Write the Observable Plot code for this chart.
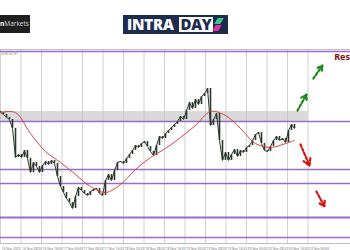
<!DOCTYPE html>
<html><head><meta charset="utf-8">
<script src="https://cdn.jsdelivr.net/npm/d3@7"></script>
<script src="https://cdn.jsdelivr.net/npm/@observablehq/plot@0.6"></script>
<style>
body{margin:0;background:#fff;font-family:"Open Sans",Roboto,sans-serif;}
#wrap{position:relative;width:350px;height:250px;overflow:hidden;}
#chart{position:absolute;left:0;top:0;}
.lg1{position:absolute;left:0;top:15px;width:30px;height:18px;background:#1f1f1f;color:#ddd;font-size:6.5px;line-height:18px;white-space:nowrap;overflow:hidden;}
.lg1 b{color:#fff}
.lg2{position:absolute;left:123px;top:15px;width:105px;height:19px;background:#1d2b4f;}
.lg2 .t1{position:absolute;left:4px;top:0;color:#fff;font:800 15px/19px "Open Sans",sans-serif;letter-spacing:-0.2px;}
.lg2 .t2{position:absolute;left:56px;top:2px;width:34px;height:15px;background:#fff;color:#1d2b4f;font:800 15px/15px "Open Sans",sans-serif;letter-spacing:-0.3px;text-align:center;}
.lg2 .i1{position:absolute;left:93px;top:3px;width:6px;height:6px;background:#35c98a;transform:skewX(-30deg);}
.lg2 .i2{position:absolute;left:91px;top:10px;width:6px;height:6px;background:#e3309a;transform:skewX(-30deg);}
</style></head>
<body>
<div id="wrap">
<div id="chart"></div>
<div class="lg1"><b>n</b>Markets</div>
<div class="lg2"><span class="t1">INTRA</span><span class="t2">DAY</span><span class="i1"></span><span class="i2"></span></div>
</div>
<script>
// Closing prices, one per bar
const closes = [
1.1876,1.1872,1.1866,1.1862,1.1844,1.1786,1.1792,1.1786,1.1800,1.1784,
1.1756,1.1776,1.1768,1.1756,1.1770,1.1778,1.1772,1.1780,1.1774,1.1748,
1.1728,1.1716,1.1704,1.1696,1.1684,1.1708,1.1726,1.1720,1.1714,1.1710,
1.1718,1.1722,1.1724,1.1714,1.1710,1.1740,1.1752,1.1740,1.1760,1.1776,
1.1778,1.1774,1.1784,1.1792,1.1800,1.1810,1.1806,1.1814,1.1818,1.1808,
1.1798,1.1790,1.1810,1.1828,1.1824,1.1834,1.1840,1.1846,1.1852,1.1858,
1.1868,1.1862,1.1880,1.1896,1.1884,1.1902,1.1892,1.1908,1.1914,1.1924,
1.1850,1.1862,1.1874,1.1820,1.1780,1.1796,1.1780,1.1792,1.1802,1.1788,
1.1800,1.1796,1.1806,1.1810,1.1820,1.1832,1.1836,1.1814,1.1800,1.1798,
1.1808,1.1820,1.1828,1.1820,1.1824,1.1816,1.1840,1.1852,1.1844
];
const firstOpen = 1.1878;
// Moving average (bar index, value)
const maIdx = [0,5,10,15,20,25,30,35,40,45,50,55,60,65,70,75,80,85,90,95,98];
const maVal = [1.1876,1.1876,1.1834,1.1798,1.1776,1.1752,1.1728,1.1716,1.1732,1.1762,
1.1786,1.1804,1.1826,1.1850,1.1878,1.1870,1.1844,1.1814,1.1806,1.1814,1.1820];
// Horizontal levels
const levels = [1.1998,1.1858,1.1762,1.1734,1.1666,1.1626];
const levelWidths = [1.3,1.3,1.3,1.3,2,1.3];
// Resistance zone
const zoneTop = 1.1878, zoneBottom = 1.1858, zoneEnd = 102.5;
// Time labels (one per grid line)
const timeLabels = ["16 Nov 2020","16 Nov 08:00","16 Nov 16:00","17 Nov 00:00","17 Nov 08:00","17 Nov 16:00",
"18 Nov 00:00","18 Nov 08:00","18 Nov 16:00","19 Nov 00:00","19 Nov 08:00","19 Nov 16:00",
"20 Nov 00:00","20 Nov 08:00","20 Nov 16:00","23 Nov 00:00"];
const barsPerGrid = 41/6;
// Scenario arrows
const upArrows = [{x1:99,y1:1.1880,x2:102,y2:1.1912},{x1:104.3,y1:1.1944,x2:107.3,y2:1.1970}];
const downArrows = [{x1:100,y1:1.1812,x2:103,y2:1.1770},{x1:105.3,y1:1.1718,x2:108,y2:1.1688}];
const labelText = "Res";

const bars = closes.map((c,i)=>({i, open: i ? closes[i-1] : firstOpen, close:c}));
const ma = maIdx.map((x,k)=>({x, y: maVal[k]}));
const grid = timeLabels.map((t,k)=>({x:k*barsPerGrid, t}));

const chart = Plot.plot({
  width:350, height:250, margin:0,
  x:{domain:[0,350/3], range:[0,350], axis:null},
  y:{domain:[1.16,1.21], range:[250,0], axis:null},
  marks:[
    Plot.rect([{x1:0,x2:zoneEnd,y1:zoneBottom,y2:zoneTop}],{x1:"x1",x2:"x2",y1:"y1",y2:"y2",fill:"#d9d9d9"}),
    Plot.ruleX(grid,{x:"x",y1:1.1614,y2:1.2002,stroke:"#c4c4c4",strokeWidth:0.8}),
    Plot.ruleY([1.2002],{stroke:"#b0b0b0",strokeWidth:0.8}),
    Plot.ruleY([1.1614],{stroke:"#b0b0b0",strokeWidth:0.8}),
    Plot.ruleY(levels,{y:d=>d,stroke:"#9a6cc8",strokeWidth:(d,k)=>levelWidths[k]}),
    Plot.text(grid,{x:"x",text:"t",frameAnchor:"bottom",dy:-1,dx:1,textAnchor:"start",fontSize:3.3,fill:"#777"}),
    Plot.text(["EURUSD,H1"],{x:0,y:1.1998,dy:3,dx:1,textAnchor:"start",fontSize:3,fill:"#888"}),
    Plot.ruleX(bars,{x:"i",y1:"open",y2:"close",stroke:"#2c3a2c",strokeWidth:1.6}),
    Plot.line(bars,{x:"i",y:"close",stroke:"#2c3a2c",strokeWidth:1}),
    Plot.line(ma,{x:"x",y:"y",stroke:"#d9443a",strokeWidth:1,curve:"catmull-rom"}),
    Plot.arrow(upArrows,{x1:"x1",y1:"y1",x2:"x2",y2:"y2",stroke:"#1e8a1e",strokeWidth:2.2,strokeDasharray:"2.5,2",headLength:5}),
    Plot.arrow(downArrows,{x1:"x1",y1:"y1",x2:"x2",y2:"y2",stroke:"#d11414",strokeWidth:2.2,strokeDasharray:"2.5,2",headLength:5}),
    Plot.text([labelText],{x:350/3,y:1.1986,text:d=>d,textAnchor:"end",dx:-0.5,fontSize:9,fontWeight:"bold",fill:"#8b0a0a"})
  ]
});
document.getElementById("chart").appendChild(chart);
</script>
</body></html>
